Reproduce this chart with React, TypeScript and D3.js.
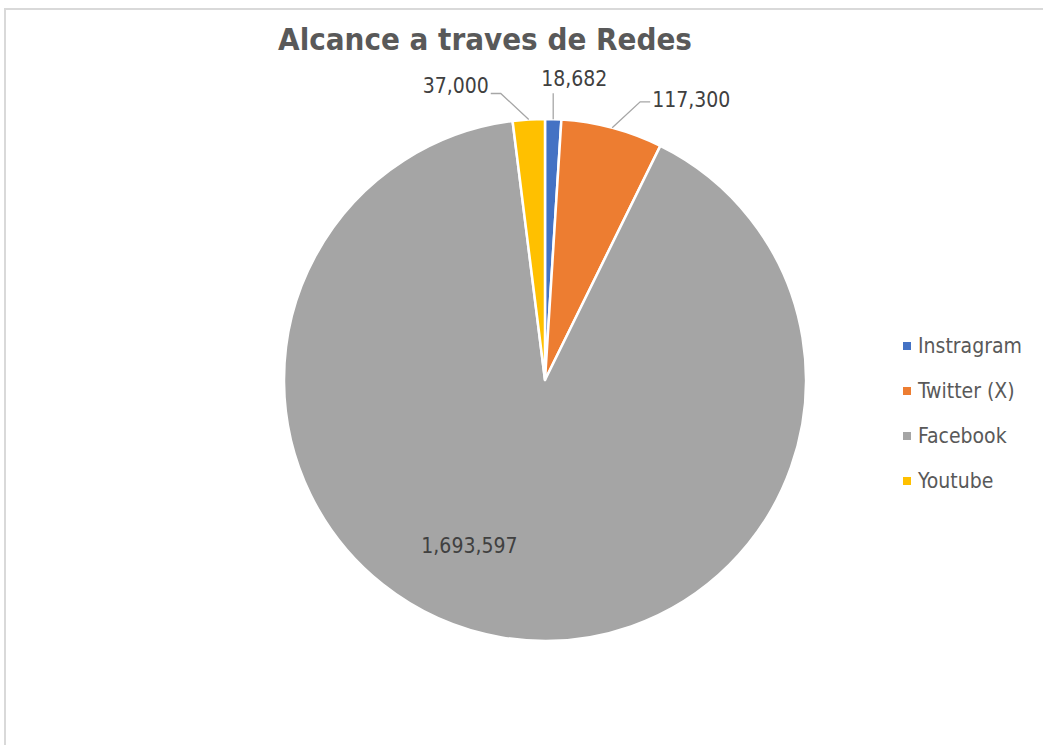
import { useEffect, useRef } from "react";
import * as d3 from "d3";

const networks = ["Instragram", "Twitter (X)", "Facebook", "Youtube"];
const reach = [18682, 117300, 1693597, 37000];
const colors = ["#4472C4", "#ED7D31", "#A5A5A5", "#FFC000"];
const title = "Alcance a traves de Redes";

const FONT = '"Liberation Sans Narrow", "DejaVu Sans Condensed", "Open Sans", sans-serif';

const App = () => {
  const ref = useRef<SVGSVGElement>(null);

  useEffect(() => {
    if (!ref.current) return;
    const svg = d3.select(ref.current);
    svg.selectAll("*").remove();
    const w = 1043;
    const h = 745;
    svg.attr("viewBox", `0 0 ${w} ${h}`);

    // chart frame (cut off at the right and bottom)
    svg.append("rect")
      .attr("x", 5).attr("y", 9).attr("width", w + 20).attr("height", h + 20)
      .attr("fill", "white").attr("stroke", "#d9d9d9").attr("stroke-width", 2);

    svg.append("text")
      .attr("x", 485).attr("y", 50)
      .attr("text-anchor", "middle")
      .attr("font-family", FONT).attr("font-weight", "bold").attr("font-size", 31)
      .attr("fill", "#595959")
      .text(title);

    const cx = 545, cy = 380, r = 261;
    const data = networks.map((name, i) => ({ name, value: reach[i], color: colors[i] }));
    const pie = d3.pie<typeof data[0]>().sort(null).value((d) => d.value);
    const arcs = pie(data);
    const arc = d3.arc<d3.PieArcDatum<typeof data[0]>>().innerRadius(0).outerRadius(r);

    const g = svg.append("g").attr("transform", `translate(${cx},${cy})`);
    g.selectAll("path")
      .data(arcs)
      .join("path")
      .attr("d", arc as any)
      .attr("fill", (d) => d.data.color)
      .attr("stroke", "white").attr("stroke-width", 2.5).attr("stroke-linejoin", "round");

    const fmt = d3.format(",");
    arcs.forEach((a) => {
      const mid = (a.startAngle + a.endAngle) / 2;
      const span = a.endAngle - a.startAngle;
      if (span > Math.PI) {
        // big slice: label inside
        const [lx, ly] = d3.pointRadial(mid + 0.26, r * 0.7);
        g.append("text")
          .attr("x", lx).attr("y", ly)
          .attr("text-anchor", "middle").attr("dominant-baseline", "central")
          .attr("font-family", FONT).attr("font-size", 21).attr("fill", "#404040")
          .text(fmt(a.data.value));
        return;
      }
      const [rx, ry] = d3.pointRadial(mid, r);
      const s = Math.sin(mid);
      const side = Math.abs(s) < 0.045 ? 0 : Math.sign(s);
      const ex = rx + side * 28, ey = ry - 26;
      const pts: [number, number][] = [[rx, ry], [ex, ey]];
      if (side !== 0) pts.push([ex + side * 10, ey]);
      g.append("path")
        .attr("d", d3.line()(pts))
        .attr("fill", "none").attr("stroke", "#a6a6a6").attr("stroke-width", 1.3);
      const t = g.append("text")
        .attr("font-family", FONT).attr("font-size", 21).attr("fill", "#404040")
        .text(fmt(a.data.value));
      if (side === 0) {
        t.attr("x", rx + 21).attr("y", ey - 7).attr("text-anchor", "middle");
      } else {
        t.attr("x", ex + side * 12).attr("y", ey + (side > 0 ? 5 : -1))
          .attr("text-anchor", side > 0 ? "start" : "end");
      }
    });

    // legend
    const ly = d3.scalePoint<string>().domain(networks).range([346, 481]);
    const leg = svg.append("g");
    networks.forEach((n, i) => {
      leg.append("rect")
        .attr("x", 903).attr("y", ly(n)! - 4).attr("width", 8).attr("height", 8)
        .attr("fill", colors[i]);
      leg.append("text")
        .attr("x", 918).attr("y", ly(n)!)
        .attr("dominant-baseline", "central")
        .attr("font-family", FONT).attr("font-size", 21).attr("fill", "#595959")
        .text(n);
    });
  }, []);

  return (
    <div style={{ position: "absolute", left: 0, top: 0, width: 1043, height: 745, background: "white" }}>
      <svg ref={ref} width={1043} height={745} style={{ display: "block" }} />
    </div>
  );
};

export default App;
